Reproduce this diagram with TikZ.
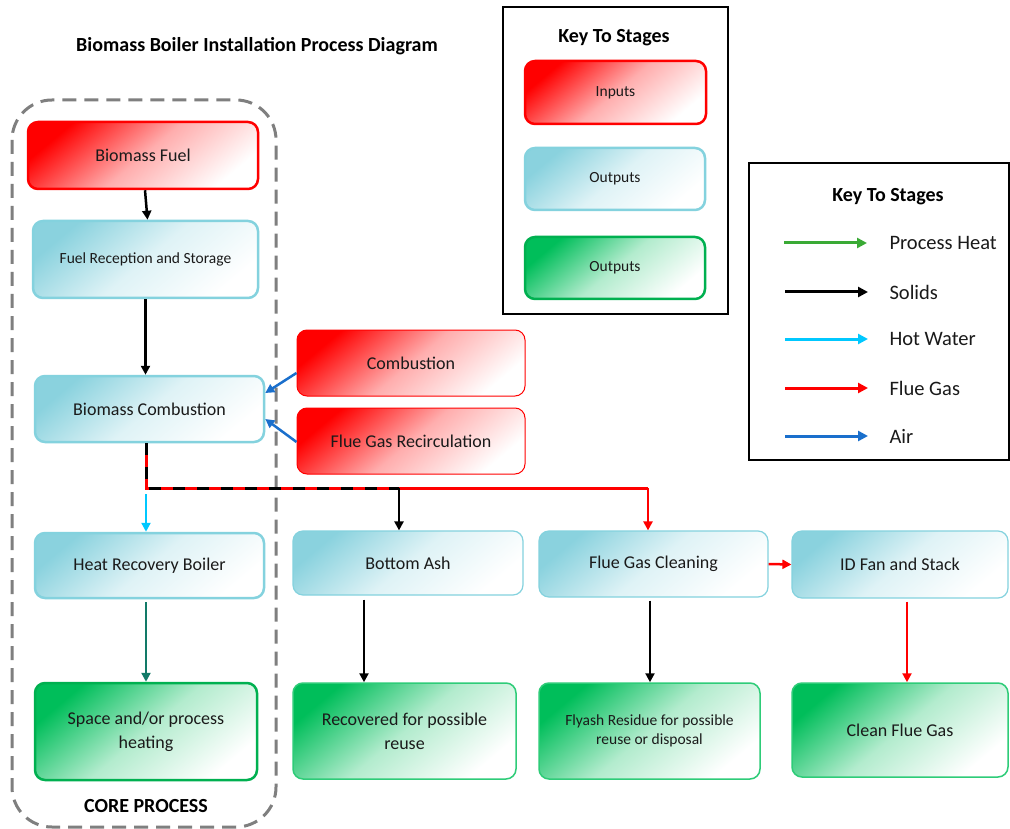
\documentclass[tikz,border=0pt]{standalone}
\usepackage{fontspec}
\setmainfont{Carlito}
\usetikzlibrary{arrows.meta,calc}
\definecolor{txt}{HTML}{1A1A1A}
\definecolor{bborder}{HTML}{84D2DE}
\definecolor{btop}{HTML}{8AD2DE}
\definecolor{gborder}{HTML}{00B050}
\definecolor{gtop}{HTML}{00BE5A}
\definecolor{gborder2}{HTML}{2ECC78}
\definecolor{coregray}{HTML}{7F7F7F}
\definecolor{hotwater}{HTML}{00C8FF}
\definecolor{airblue}{HTML}{1A6FCC}
\definecolor{heatgreen}{HTML}{3AAA35}
\definecolor{tealarrow}{HTML}{127A68}
\begin{document}
\begin{tikzpicture}[x=1pt,y=-1pt,
  box/.style={rectangle, rounded corners=10pt, align=center, text=txt, font=\fontsize{18}{24}\selectfont},
  inbox/.style={box, draw=red, line width=2.5pt, top color=red, bottom color=white, middle color=red!32, shading angle=40},
  inthin/.style={inbox, line width=1pt},
  outbox/.style={box, draw=bborder, line width=2.5pt, top color=btop, bottom color=white, middle color=btop!28, shading angle=40},
  outthin/.style={outbox, line width=1.2pt},
  grbox/.style={box, draw=gborder, line width=2.5pt, top color=gtop, bottom color=white, middle color=gtop!30, shading angle=40},
  grthin/.style={grbox, draw=gborder2, line width=1.5pt},
  flow/.style={line width=2.5pt, -{Triangle[length=9pt,width=9pt]}},
  keyarrow/.style={line width=3pt, -{Triangle[length=10pt,width=10pt]}},
  keyframe/.style={draw=black, line width=2pt},
  keytitle/.style={font=\bfseries\fontsize{20}{24}\selectfont, text=black},
  keylabel/.style={anchor=west, font=\fontsize{20.5}{24}\selectfont, text=txt},
  smalltext/.style={font=\fontsize{15.5}{19}\selectfont},
]
\useasboundingbox (0,0) rectangle (1010,829);
\fill[white] (0,0) rectangle (1010,829);

% title
\node[font=\bfseries\fontsize{20}{24}\selectfont, text=black] (title) at (257,46) {Biomass Boiler Installation Process Diagram};

% core process frame
\draw[coregray, line width=3pt, dash pattern=on 14pt off 8pt, rounded corners=40pt] (12,100) rectangle (276,827);
\node[font=\bfseries\fontsize{20}{24}\selectfont, text=black] (core) at (146,806) {CORE PROCESS};

% core nodes
\node[inbox, minimum width=230pt, minimum height=67pt] (bf) at (143,155.5) {Biomass Fuel};
\node[outbox, smalltext, minimum width=225pt, minimum height=77pt] (frs) at (145.5,259.5) {Fuel Reception and Storage};
\node[outbox, minimum width=229pt, minimum height=66pt] (bc) at (149.5,409) {Biomass Combustion};
\node[outbox, minimum width=229pt, minimum height=65pt] (hrb) at (149.5,565.5) {Heat Recovery Boiler};
\node[grbox, minimum width=222pt, minimum height=97pt] (sph) at (146,731.5) {Space and/or process\\heating};

% inputs
\node[inthin, minimum width=228pt, minimum height=66pt] (comb) at (411,363) {Combustion};
\node[inthin, minimum width=228pt, minimum height=66pt] (fgr) at (411,441) {Flue Gas Recirculation};

% other outputs
\node[outthin, minimum width=230pt, minimum height=64pt] (ba) at (408,563) {Bottom Ash};
\node[outthin, minimum width=229pt, minimum height=66pt] (fgc) at (653.5,564) {Flue Gas Cleaning};
\node[outthin, minimum width=216pt, minimum height=67pt] (idf) at (900,564.5) {ID Fan and Stack};
\node[grthin, minimum width=223pt, minimum height=96pt] (rec) at (404.5,731) {Recovered for possible\\reuse};
\node[grthin, smalltext, minimum width=221pt, minimum height=96pt] (fly) at (649.5,731) {Flyash Residue for possible\\reuse or disposal};
\node[grthin, minimum width=216pt, minimum height=94pt] (cfg) at (900,730) {Clean Flue Gas};

% key 1
\draw[keyframe] (503,7) rectangle (728,314);
\node[keytitle] (k1t) at (614,38) {Key To Stages};
\node[inbox, smalltext, minimum width=181pt, minimum height=63pt] (kin) at (615.5,92.5) {Inputs};
\node[outbox, smalltext, minimum width=180pt, minimum height=62pt] (kout1) at (615,179) {Outputs};
\node[grbox, smalltext, minimum width=180pt, minimum height=62pt] (kout2) at (615,268) {Outputs};

% key 2
\draw[keyframe] (749,163) rectangle (1009,460);
\node[keytitle] (k2t) at (888,197) {Key To Stages};
\coordinate (a1s) at (784,243); \coordinate (a1e) at (867,243);
\coordinate (a2s) at (785,292); \coordinate (a2e) at (868,292);
\coordinate (a3s) at (785,339); \coordinate (a3e) at (868,339);
\coordinate (a4s) at (785,388); \coordinate (a4e) at (868,388);
\coordinate (a5s) at (785,436); \coordinate (a5e) at (868,436);
\draw[keyarrow, heatgreen] (a1s) -- (a1e);
\draw[keyarrow, black] (a2s) -- (a2e);
\draw[keyarrow, hotwater] (a3s) -- (a3e);
\draw[keyarrow, red] (a4s) -- (a4e);
\draw[keyarrow, airblue] (a5s) -- (a5e);
\node[keylabel] (l1) at (886,243) {Process Heat};
\node[keylabel] (l2) at (886,292) {Solids};
\node[keylabel] (l3) at (886,339) {Hot Water};
\node[keylabel] (l4) at (886,388) {Flue Gas};
\node[keylabel] (l5) at (886,436) {Air};

% connectors
\draw[flow, black] ([xshift=2pt]bf.south) -- ([xshift=2pt]frs.north);
\draw[flow, black] (frs.south) -- (frs.south |- bc.north);
\draw[flow, airblue] ([yshift=-10pt]comb.west) -- ([yshift=16pt]bc.east);
\draw[flow, airblue] ([yshift=-1pt]fgr.west) -- ([yshift=-10pt]bc.east);

\coordinate (j1) at (146,488);
\coordinate (j2) at (399,488);
\coordinate (j3) at (648,488);
\coordinate (j1b) at (146,494);
% mixed solids / flue gas line
\draw[red, line width=3pt] (j1 |- bc.south) -- (j1) -- (j2);
\draw[black, line width=3pt, dash pattern=on 12pt off 12pt] (j1 |- bc.south) -- (j1) -- (j2);
\draw[red, line width=3pt] (j2) -- (j3);
\draw[flow, red] (j3) -- (j3 |- fgc.north);
\draw[flow, black] (j2) -- (j2 |- ba.north);
\draw[flow, hotwater] (j1b) -- (j1b |- hrb.north);

\draw[flow, tealarrow] ([yshift=-3pt]j1 |- hrb.south) -- (j1 |- sph.north);
\draw[flow, black] ([yshift=-4pt]364,0 |- ba.south) -- (364,0 |- rec.north);
\draw[flow, black] ([yshift=-3pt]650,0 |- fgc.south) -- (650,0 |- fly.north);
\draw[flow, red] (fgc.east) -- (idf.west);
\draw[flow, red] ([yshift=-3pt]907,0 |- idf.south) -- (907,0 |- cfg.north);
\end{tikzpicture}
\end{document}
